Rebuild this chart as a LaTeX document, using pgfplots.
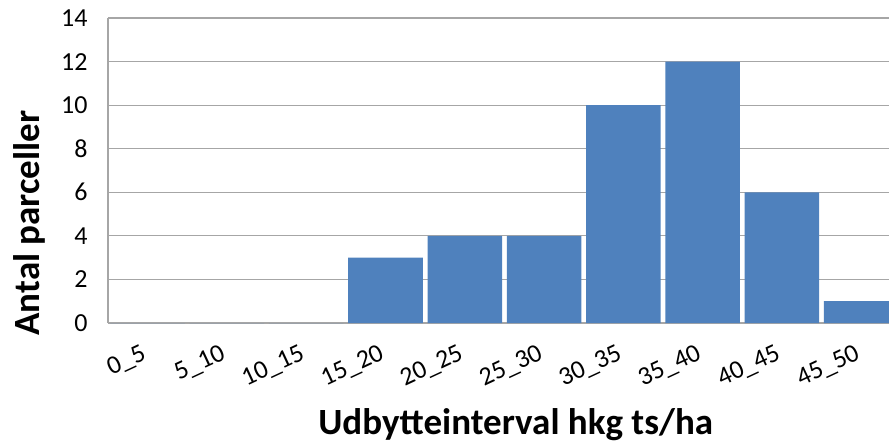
\documentclass[border=0pt]{standalone}
\usepackage{fontspec}
\setmainfont{Carlito}
\usepackage{pgfplots}
\pgfplotsset{compat=1.18}
\definecolor{barblue}{HTML}{4F81BD}
\definecolor{gridgray}{HTML}{A6A6A6}
\begin{document}
\begin{tikzpicture}
\begin{axis}[
  at={(0,0)}, anchor=south west,
  scale only axis, width=781pt, height=305pt,
  xmin=-0.5, xmax=9.35, ymin=0, ymax=14,
  axis lines*=left,
  axis line style={gridgray, line width=1.2pt},
  ymajorgrids, grid style={gridgray, line width=1.2pt},
  major tick length=0pt,
  ytick={0,2,...,14},
  xtick={0,...,9},
  xticklabels={0\_5,5\_10,10\_15,15\_20,20\_25,25\_30,30\_35,35\_40,40\_45,45\_50},
  /pgf/number format/assume math mode=true,
  tick label style={font=\fontsize{26}{30}\selectfont, text=black},
  xticklabel style={rotate=25, anchor=east},
  xticklabel shift=28pt,
  yticklabel shift=17pt,
  xlabel={\textbf{Udbytteinterval hkg ts/ha}},
  ylabel={\textbf{Antal parceller}},
  label style={font=\fontsize{37}{42}\selectfont},
  xlabel style={at={(rel axis cs:0.522,0)}, yshift=-111pt, anchor=base},
  ylabel style={at={(rel axis cs:0,0.328)}, yshift=68pt, anchor=base},
]
\addplot[ybar, bar width=0.94, fill=barblue, draw=none]
  coordinates {(0,0) (1,0) (2,0) (3,3) (4,4) (5,4) (6,10) (7,12) (8,6) (9,1)};
\end{axis}
\pgfresetboundingbox
\useasboundingbox (-108pt,-121pt) rectangle (781pt,323pt);
\end{tikzpicture}
\end{document}
